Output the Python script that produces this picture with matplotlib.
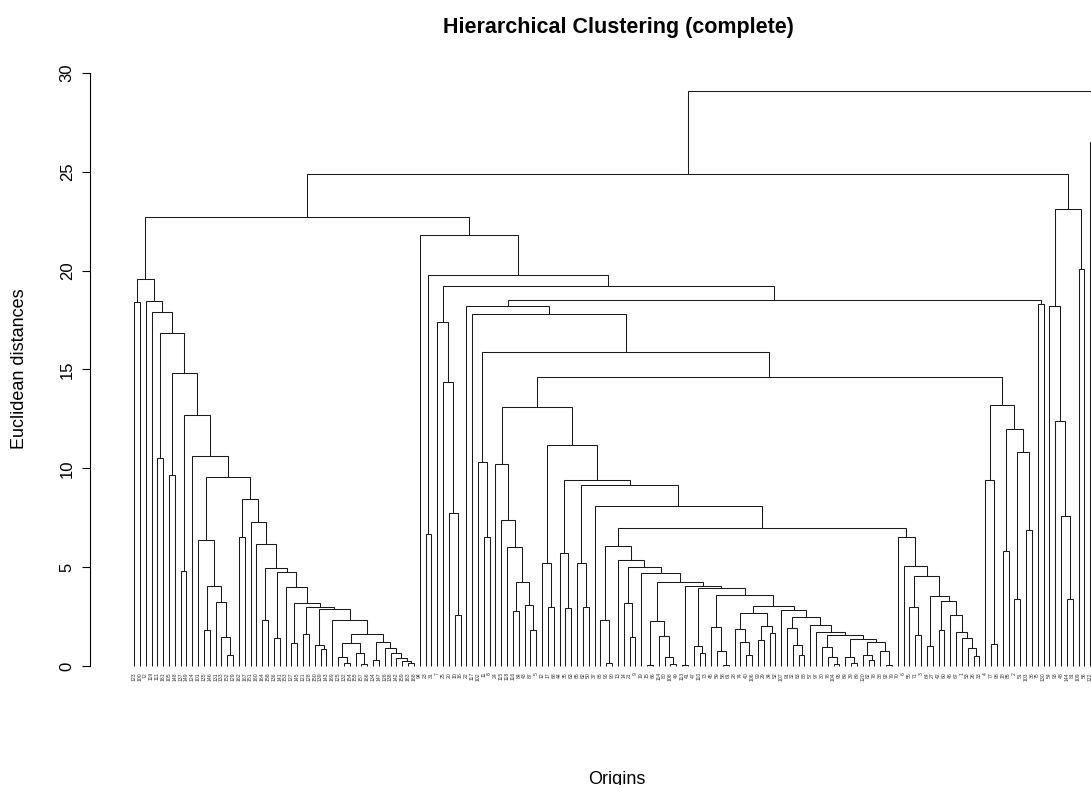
import matplotlib
matplotlib.use("Agg")
import matplotlib.pyplot as plt

plt.rcParams["font.family"] = ["Liberation Sans", "DejaVu Sans"]

# Dendrogram as nested (merge height, left, right) tuples; `_` marks a leaf.
# Leaf labels are consumed in drawing order from LEAF_LABELS.
_ = None

LEAF_LABELS = [
    123, 100, 72, 119, 111, 161, 105, 148, 137, 149, 124, 101, 135, 146, 131, 133,
    152, 129, 162, 167, 151, 160, 164, 158, 136, 141, 153, 127, 145, 121, 128, 150,
    139, 143, 169, 125, 132, 154, 155, 157, 166, 134, 147, 126, 138, 142, 159, 163,
    168,
    94, 23, 31, 7, 25, 20, 10, 16, 22, 117, 102, 11, 8, 24, 115, 118, 116, 84, 43,
    87, 5, 12, 17, 68, 44, 35, 63, 65, 62, 50, 37, 86, 96, 90, 13, 14, 21, 9, 19,
    15, 66, 114, 80, 108, 49, 113, 41, 47, 110, 73, 45, 59, 58, 61, 28, 74, 40,
    106, 99, 29, 34, 52, 107, 91, 32, 83, 88, 57, 97, 30, 76, 104, 95, 69, 39, 89,
    120, 82, 78, 38, 92, 79, 70, 6, 55, 71, 3, 64, 27, 42, 60, 46, 67, 1, 53, 26,
    33, 4, 77, 98, 18, 85, 2, 51, 103, 36, 75, 130, 54, 93, 48, 144, 81, 109, 56,
    122, 156, 112, 140, 165, 170,
]

LEFT_TAIL = (2.35, _, (1.6, (1.15, (0.47, _, (0.15, _, _)), (0.64, _, (0.1, _, _))),
                       (1.23, (0.3, _, _),
                        (0.91, _, (0.65, _, (0.4, _, (0.25, _, (0.15, _, _))))))))

LEFT_GROUP = (19.6,
    (18.4, _, _),
    (18.45, _,
     (17.9, _,
      (16.85, (10.5, _, _),
       (14.8, (9.65, _, _),
        (12.7, (4.8, _, _),
         (10.6, _,
          (9.55,
           (6.35, _, (4.05, (1.8, _, _), (3.25, _, (1.45, _, (0.55, _, _))))),
           (8.45, (6.5, _, _),
            (7.3, _,
             (6.15, _,
              (4.95, (2.35, _, _),
               (4.75, (1.4, _, _),
                (4.0, _,
                 (3.2, (1.15, _, _),
                  (3.0, (1.6, _, _),
                   (2.9, (1.05, _, (0.85, _, _)), LEFT_TAIL)))))))))))))))))

MID_CHAIN = (6.07, (2.35, _, (0.15, _, _)),
    (5.36, _,
     (4.99, (3.2, _, (1.48, _, _)),
      (4.69, _,
       (4.23, (2.29, (0.05, _, _), (1.52, _, (0.47, _, (0.1, _, _)))),
        (4.06, (0.05, _, _),
         (3.93, (1.03, _, (0.64, _, _)),
          (3.57, (1.95, _, (0.76, _, (0.05, _, _))),
           (3.04,
            (2.66, (1.85, _, (1.23, _, (0.56, _, _))),
                   (2.0, (1.3, _, _), (1.65, _, _))),
            (2.83, _,
             (2.5, (1.9, _, (1.06, _, (0.56, _, _))),
              (2.07, _,
               (1.74, _,
                (1.57, (0.98, _, (0.45, _, (0.1, _, _))),
                 (1.35, (0.47, _, (0.15, _, _)),
                  (1.23, (0.56, _, (0.3, _, _)),
                   (0.78, _, (0.05, _, _))))))))))))))))))

RIGHT_939 = (3.55, (1.0, _, _),
             (3.3, (1.8, _, _),
              (2.6, _, (1.7, _, (1.4, _, (0.9, _, (0.5, _, _)))))))

MID_TAIL = (6.5, _, (5.07, _, (4.57, (3.0, _, (1.57, _, _)), RIGHT_939)))

RIGHT_1006 = (13.2,
              (9.4, _, (1.1, _, _)),
              (12.0, (5.8, _, _), (10.8, (3.4, _, _), (6.9, _, _))))

NODE_11 = (11.2, (5.2, _, (3.0, _, _)),
           (9.4, (5.7, _, (2.95, _, _)),
            (9.15, (5.2, _, (3.0, _, _)),
             (8.1, _, (7.0, MID_CHAIN, MID_TAIL)))))

NODE_13 = (13.1, (10.2, _, (7.4, _, (6.0, _, (4.25, (2.8, _, _),
                                                (3.1, _, (1.8, _, _)))))),
           NODE_11)

MID_GROUP = (21.8, _,
    (19.8, (6.7, _, _),
     (19.2, (17.4, _, (14.35, _, (7.75, _, (2.6, _, _)))),
      (18.5,
       (18.2, _, (17.8, _, (15.9, (10.3, _, (6.5, _, _)),
                           (14.6, NODE_13, RIGHT_1006)))),
       (18.3, _, _)))))

RIGHT_GROUP = (23.1, (18.2, _, (12.4, _, (7.6, _, (3.4, _, _)))), (20.1, _, _))

FAR_GROUP = (26.5, _, (20.0, (8.0, _, _), (12.0, (5.0, _, _), _)))

TREE = (29.1, (24.9, (22.7, LEFT_GROUP, MID_GROUP), RIGHT_GROUP), FAR_GROUP)


def draw(ax, node, counter):
    """Draw a subtree; return (x of its stem, height)."""
    if node is None:
        x = counter[0]
        counter[0] += 1
        return float(x), 0.0
    h, left, right = node
    xl, hl = draw(ax, left, counter)
    xr, hr = draw(ax, right, counter)
    ax.plot([xl, xl, xr, xr], [hl, h, h, hr], color="#1a1a1a", lw=0.75,
            solid_capstyle="butt", solid_joinstyle="miter")
    return (xl + xr) / 2, h


fig = plt.figure(figsize=(10.91, 7.85), dpi=100)
# axes right edge runs past the figure, so the last leaves fall outside
ax = fig.add_axes([0.0825, 0.1214, 0.9862, 0.7932])

counter = [0]
draw(ax, TREE, counter)
n_leaves = counter[0]

for i, lab in enumerate(LEAF_LABELS[:n_leaves]):
    ax.text(i, -0.3, str(lab), rotation=90, ha="center", va="top", fontsize=3.7,
            color="#333333", clip_on=True)

ax.set_xlim(-7.55, 177)
ax.set_ylim(-1.2, 30.3)
ax.set_xticks([])
ax.set_yticks([0, 5, 10, 15, 20, 25, 30])
ax.set_yticklabels(["0", "5", "10", "15", "20", "25", "30"], rotation=90, va="center",
                   fontsize=12)
ax.tick_params(axis="y", length=6, width=0.8, pad=5)
for side in ("top", "right", "bottom"):
    ax.spines[side].set_visible(False)
ax.spines["left"].set_bounds(0, 30)
ax.spines["left"].set_linewidth(0.8)
ax.patch.set_visible(False)

fig.text(618 / 1091, 1 - 27 / 785, "Hierarchical Clustering (complete)",
         ha="center", va="center", fontsize=15.5, fontweight="bold")
fig.text(20 / 1091, 1 - 369 / 785, "Euclidean distances", rotation=90,
         ha="center", va="center", fontsize=13)
fig.text(617 / 1091, 1 - 779 / 785, "Origins", ha="center", va="center", fontsize=13)

fig.savefig("out.png", dpi=100)
